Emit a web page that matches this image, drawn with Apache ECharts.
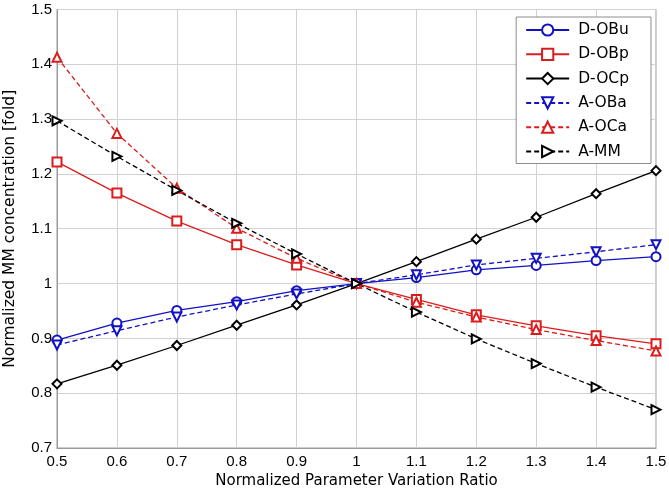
<!DOCTYPE html>
<html>
<head>
<meta charset="utf-8">
<script src="https://cdn.jsdelivr.net/npm/echarts@6/dist/echarts.min.js"></script>
<style>
html,body{margin:0;padding:0;background:#fff;}
#chart{width:669px;height:491px;}
</style>
</head>
<body>
<div id="chart"></div>
<script>
// Data
const ratios = [0.5, 0.6, 0.7, 0.8, 0.9, 1.0, 1.1, 1.2, 1.3, 1.4, 1.5];
const dOBu = [0.897, 0.928, 0.951, 0.967, 0.987, 1.0, 1.011, 1.025, 1.033, 1.042, 1.049];
const dOBp = [1.222, 1.165, 1.114, 1.071, 1.034, 1.0, 0.971, 0.943, 0.923, 0.905, 0.890];
const dOCp = [0.817, 0.851, 0.887, 0.924, 0.961, 1.0, 1.040, 1.081, 1.121, 1.164, 1.206];
const aOBa = [0.888, 0.914, 0.939, 0.961, 0.981, 1.0, 1.016, 1.034, 1.046, 1.058, 1.071];
const aOCa = [1.413, 1.274, 1.174, 1.101, 1.046, 1.0, 0.966, 0.939, 0.916, 0.896, 0.877];
const aMM  = [1.297, 1.232, 1.170, 1.110, 1.054, 1.0, 0.948, 0.899, 0.854, 0.811, 0.770];
const seriesNames = ['D-OBu', 'D-OBp', 'D-OCp', 'A-OBa', 'A-OCa', 'A-MM'];
const xTitle = 'Normalized Parameter Variation Ratio';
const yTitle = 'Normalized MM concentration [fold]';

const BLUE = '#1212c4';
const RED = '#dc1c1c';
const BLACK = '#000000';
const FONT = 'Liberation Sans, Arial, sans-serif';
const FONT2 = 'DejaVu Sans, sans-serif';

function pairs(vals) { return ratios.map((x, i) => [x, vals[i]]); }

function mk(name, vals, color, symbol, rotate, dashed) {
  return {
    name: name,
    type: 'line',
    data: pairs(vals),
    symbol: symbol,
    symbolSize: 9,
    symbolRotate: rotate,
    showAllSymbol: true,
    lineStyle: { color: color, width: 1.3, type: dashed ? [5, 3] : 'solid' },
    itemStyle: { color: color, borderColor: color, borderWidth: 1.3 },
    emphasis: { disabled: true },
    animation: false
  };
}

const chart = echarts.init(document.getElementById('chart'), null, { renderer: 'canvas' });
chart.setOption({
  backgroundColor: '#ffffff',
  animation: false,
  grid: { left: 57, right: 13, top: 9.5, bottom: 43, show: true, borderColor: '#9a9a9a', borderWidth: 1,
          containLabel: false, outerBoundsMode: 'none' },
  legend: {
    data: seriesNames,
    orient: 'vertical',
    right: 18,
    top: 17,
    padding: [5, 22, 4, 9],
    itemWidth: 43,
    itemHeight: 14,
    itemGap: 8.3,
    backgroundColor: '#ffffff',
    borderColor: '#8c8c8c',
    borderWidth: 1,
    borderRadius: 0,
    textStyle: { fontFamily: FONT2, fontSize: 15.5, lineHeight: 14, color: '#000', padding: [0, 0, 0, 4] }
  },
  xAxis: {
    type: 'value',
    min: 0.5,
    max: 1.5,
    interval: 0.1,
    name: xTitle,
    nameLocation: 'middle',
    nameGap: 23,
    nameTextStyle: { fontFamily: FONT2, fontSize: 15, color: '#000' },
    axisLine: { show: true, lineStyle: { color: '#9a9a9a' } },
    axisTick: { show: false },
    axisLabel: { fontFamily: FONT, fontSize: 15, color: '#000', margin: 6,
      formatter: v => String(+v.toFixed(1)) },
    splitLine: { show: true, lineStyle: { color: '#d2d2d2', width: 1 } }
  },
  yAxis: {
    type: 'value',
    min: 0.7,
    max: 1.5,
    interval: 0.1,
    name: yTitle,
    nameLocation: 'middle',
    nameGap: 39,
    nameTextStyle: { fontFamily: FONT2, fontSize: 15.5, color: '#000' },
    axisLine: { show: true, lineStyle: { color: '#9a9a9a' } },
    axisTick: { show: false },
    axisLabel: { fontFamily: FONT, fontSize: 15, color: '#000', margin: 5,
      formatter: v => String(+v.toFixed(1)) },
    splitLine: { show: true, lineStyle: { color: '#d2d2d2', width: 1 } }
  },
  series: [
    mk('D-OBu', dOBu, BLUE, 'emptyCircle', 0, false),
    mk('D-OBp', dOBp, RED, 'emptyRect', 0, false),
    mk('D-OCp', dOCp, BLACK, 'emptyDiamond', 0, false),
    mk('A-OBa', aOBa, BLUE, 'emptyTriangle', 180, true),
    mk('A-OCa', aOCa, RED, 'emptyTriangle', 0, true),
    mk('A-MM', aMM, BLACK, 'emptyTriangle', -90, true)
  ]
});
</script>
</body>
</html>
